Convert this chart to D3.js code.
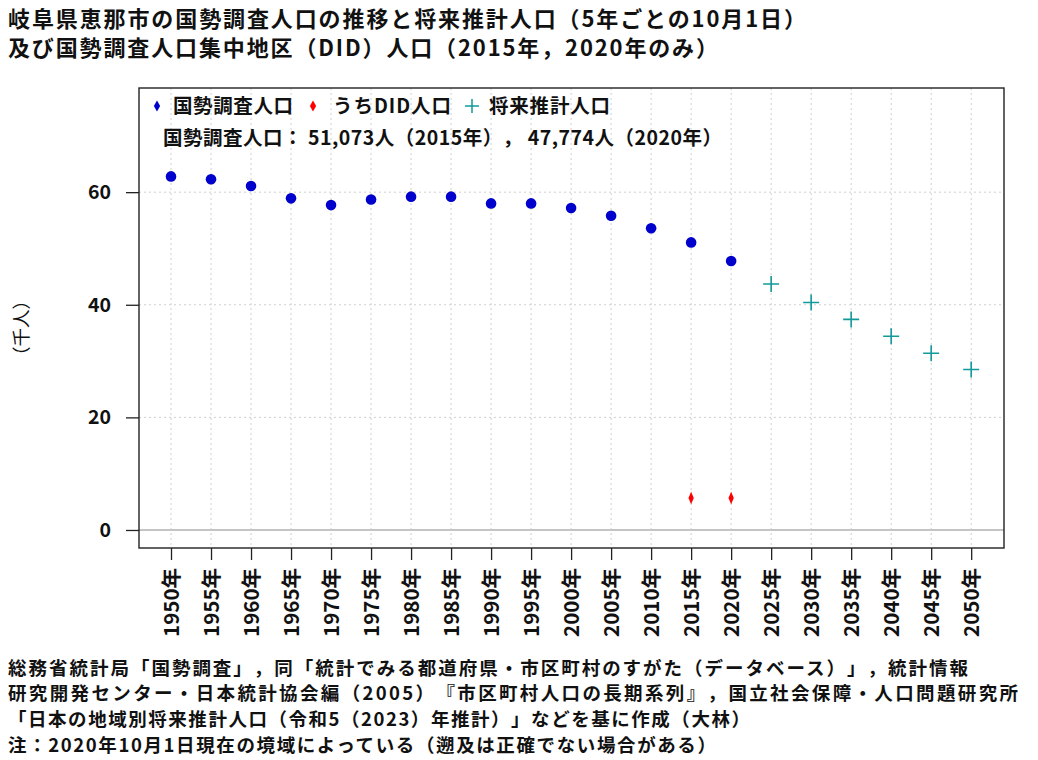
<!DOCTYPE html>
<html>
<head>
<meta charset="utf-8">
<script src="https://cdn.jsdelivr.net/npm/d3@7"></script>
<style>
  body { margin: 0; background: #fff; }
  svg { display: block; }
  text { font-family: "Noto Sans CJK JP", "Noto Sans", sans-serif; fill: #111; text-spacing-trim: space-all; }
</style>
</head>
<body>
<div id="container"></div>
<script>
// data (thousand persons)
var tickYears = [1950, 1955, 1960, 1965, 1970, 1975, 1980, 1985, 1990, 1995,
                 2000, 2005, 2010, 2015, 2020, 2025, 2030, 2035, 2040, 2045, 2050];
var censusYears = [1950, 1955, 1960, 1965, 1970, 1975, 1980, 1985, 1990, 1995,
                   2000, 2005, 2010, 2015, 2020];
var censusPop = [62.8, 62.3, 61.1, 58.9, 57.7, 58.7, 59.2, 59.2, 58.0, 58.0,
                 57.2, 55.8, 53.6, 51.073, 47.774];
var didYears = [2015, 2020];
var didPop = [5.7, 5.7];
var projYears = [2025, 2030, 2035, 2040, 2045, 2050];
var projPop = [43.7, 40.4, 37.4, 34.4, 31.4, 28.5];
var yTicks = [0, 20, 40, 60];

var titleLines = [
  '岐阜県恵那市の国勢調査人口の推移と将来推計人口（5年ごとの10月1日）',
  '及び国勢調査人口集中地区（DID）人口（2015年，2020年のみ）'
];
var footLines = [
  '総務省統計局「国勢調査」，同「統計でみる都道府県・市区町村のすがた（データベース）」，統計情報',
  '研究開発センター・日本統計協会編（2005）『市区町村人口の長期系列』，国立社会保障・人口問題研究所',
  '「日本の地域別将来推計人口（令和5（2023）年推計）」などを基に作成（大林）',
  '注：2020年10月1日現在の境域によっている（遡及は正確でない場合がある）'
];
var legendNote = '国勢調査人口： 51,073人（2015年）， 47,774人（2020年）';

// measured text widths in the reference
var titleWidths = [798, 710];
var footWidths = [960, 1010, 742, 708];

var width = 1038, height = 760;
var box = { left: 139, right: 1004, top: 88, bottom: 548 };

var svg = d3.select('#container').append('svg')
  .attr('width', width).attr('height', height);

var x = d3.scaleLinear().domain([1946, 2054.1]).range([box.left, box.right]);
var y = d3.scaleLinear().domain([-3.2, 78.5]).range([box.bottom, box.top]);

// grid
var grid = svg.append('g');
grid.selectAll('line.vg').data(tickYears).enter().append('line')
  .attr('x1', function(d) { return x(d); }).attr('x2', function(d) { return x(d); })
  .attr('y1', box.top).attr('y2', box.bottom)
  .attr('stroke', '#cfcfcf').attr('stroke-width', 1).attr('stroke-dasharray', '2,3');
grid.selectAll('line.hg').data(yTicks.slice(1)).enter().append('line')
  .attr('x1', box.left).attr('x2', box.right)
  .attr('y1', function(d) { return y(d); }).attr('y2', function(d) { return y(d); })
  .attr('stroke', '#cfcfcf').attr('stroke-width', 1).attr('stroke-dasharray', '2,3');
grid.append('line')
  .attr('x1', box.left).attr('x2', box.right)
  .attr('y1', y(0)).attr('y2', y(0))
  .attr('stroke', '#c4c4c4').attr('stroke-width', 2);

// axes
var yAxis = svg.append('g')
  .attr('transform', 'translate(' + box.left + ',0)')
  .call(d3.axisLeft(y).tickValues(yTicks).tickSize(13).tickPadding(15));
var xAxis = svg.append('g')
  .attr('transform', 'translate(0,' + box.bottom + ')')
  .call(d3.axisBottom(x).tickValues(tickYears).tickSize(12)
    .tickFormat(function(d) { return d + '年'; }));

[yAxis, xAxis].forEach(function(a) {
  a.select('.domain').remove();
  a.selectAll('.tick line').attr('stroke', '#222').attr('stroke-width', 1.3);
});
yAxis.selectAll('.tick text')
  .attr('font-size', 19.5).attr('font-weight', 'bold')
  .style('font-family', '"Noto Sans CJK JP", sans-serif').attr('fill', '#111');
xAxis.selectAll('.tick text')
  .attr('font-size', 20.5).attr('font-weight', 'bold')
  .style('font-family', '"Noto Sans CJK JP", sans-serif').attr('fill', '#111')
  .attr('text-anchor', 'end')
  .attr('dy', '0.35em')
  .attr('transform', 'translate(0,8) rotate(-90)')
  .attr('x', -12).attr('y', 0);

// plot box
svg.append('rect')
  .attr('x', box.left).attr('y', box.top)
  .attr('width', box.right - box.left).attr('height', box.bottom - box.top)
  .attr('fill', 'none').attr('stroke', '#222').attr('stroke-width', 1.4);

// census points
svg.append('g').selectAll('circle').data(censusPop).enter().append('circle')
  .attr('cx', function(d, i) { return x(censusYears[i]); })
  .attr('cy', function(d) { return y(d); })
  .attr('r', 5.3).attr('fill', '#0000cd');

// DID points
svg.append('g').selectAll('path').data(didPop).enter().append('path')
  .attr('d', d3.symbol().type(d3.symbolDiamond).size(34))
  .attr('transform', function(d, i) {
    return 'translate(' + x(didYears[i]) + ',' + y(d) + ') scale(0.85,1.15)';
  })
  .attr('fill', '#ff0000');

// projection crosses
svg.append('g').selectAll('path').data(projPop).enter().append('path')
  .attr('d', 'M-8,0H8M0,-8V8')
  .attr('transform', function(d, i) {
    return 'translate(' + x(projYears[i]) + ',' + y(d) + ')';
  })
  .attr('stroke', '#129a9a').attr('stroke-width', 1.6).attr('fill', 'none');

// legend
var leg = svg.append('g');
leg.append('path')
  .attr('d', d3.symbol().type(d3.symbolDiamond).size(34))
  .attr('transform', 'translate(157,106)').attr('fill', '#0000cd');
leg.append('path')
  .attr('d', d3.symbol().type(d3.symbolDiamond).size(34))
  .attr('transform', 'translate(313,106)').attr('fill', '#ff0000');
leg.append('path')
  .attr('d', 'M-7,0H7M0,-7V7')
  .attr('transform', 'translate(472,106)')
  .attr('stroke', '#129a9a').attr('stroke-width', 1.5);
[['国勢調査人口', 173, 120], ['うちDID人口', 333, 118], ['将来推計人口', 489, 121]].forEach(function(t) {
  leg.append('text').attr('x', t[1]).attr('y', 106).attr('dy', '0.36em')
    .attr('font-size', 19.5).attr('font-weight', 'bold')
    .attr('textLength', t[2]).attr('lengthAdjust', 'spacing').text(t[0]);
});
leg.append('text').attr('x', 163).attr('y', 138).attr('dy', '0.36em')
  .attr('font-size', 19.5).attr('font-weight', 'bold')
  .attr('textLength', 559).attr('lengthAdjust', 'spacing').text(legendNote);

// y label
svg.append('text')
  .attr('transform', 'translate(21,328) rotate(-90)')
  .attr('text-anchor', 'middle').attr('dy', '0.36em')
  .attr('font-size', 18.5).text('（千人）');

// title
svg.selectAll('text.title').data(titleLines).enter().append('text')
  .attr('class', 'title')
  .attr('x', 8).attr('y', function(d, i) { return 19 + i * 29; })
  .attr('dy', '0.36em')
  .attr('font-size', 22).attr('font-weight', 'bold')
  .attr('textLength', function(d, i) { return titleWidths[i]; })
  .attr('lengthAdjust', 'spacing')
  .text(function(d) { return d; });

// footer
svg.selectAll('text.foot').data(footLines).enter().append('text')
  .attr('class', 'foot')
  .attr('x', 8).attr('y', function(d, i) { return 668 + i * 25.7; })
  .attr('dy', '0.36em')
  .attr('font-size', 18.5).attr('font-weight', 'bold')
  .attr('textLength', function(d, i) { return footWidths[i]; })
  .attr('lengthAdjust', 'spacing')
  .text(function(d) { return d; });
</script>
</body>
</html>
